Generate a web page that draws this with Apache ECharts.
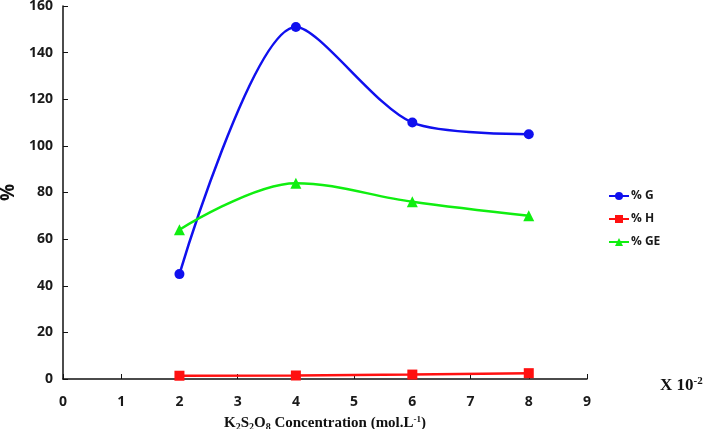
<!DOCTYPE html>
<html><head><meta charset="utf-8">
<script src="https://cdn.jsdelivr.net/npm/echarts@6/dist/echarts.min.js"></script>
<style>html,body{margin:0;padding:0;background:#fff}#c{width:708px;height:429px}</style>
</head><body><div id="c"></div>
<script>
var xValues = [2, 4, 6, 8];
var gValues = [45, 151, 110, 105];
var hValues = [1.4, 1.5, 1.9, 2.5];
var geValues = [64, 84, 76, 70];
var seriesNames = ['% G', '% H', '% GE'];
var yTicks = [0, 20, 40, 60, 80, 100, 120, 140, 160];

function pairs(v){ return xValues.map(function(x,i){ return [x, v[i]]; }); }

var chart = echarts.init(document.getElementById('c'));
var lab = {fontFamily:'Open Sans', fontWeight:'bold', fontSize:14, color:'#1a1a1a'};
chart.setOption({
  animation:false,
  backgroundColor:'#fff',
  grid:{left:63, right:121, top:6, bottom:50, containLabel:false, outerBoundsMode:'none'},
  title:{
    text:'{a|X 10}{s|-2}', left:655, top:371,
    textStyle:{rich:{
      a:{fontFamily:'Liberation Serif', fontWeight:'bold', fontSize:17, color:'#111'},
      s:{fontFamily:'Liberation Serif', fontWeight:'bold', fontSize:11, color:'#111', verticalAlign:'top', padding:[0,0,9,0]}
    }}
  },
  legend:{
    orient:'vertical', left:603, top:185, itemGap:11, itemWidth:20, itemHeight:10,
    data:seriesNames,
    textStyle:{fontFamily:'Open Sans', fontWeight:'bold', fontSize:12, color:'#1a1a1a', padding:[0,0,0,-3]}
  },
  xAxis:{
    type:'value', min:0, max:9, interval:1,
    axisLine:{lineStyle:{color:'#111', width:1.5}},
    axisTick:{inside:true, length:5, lineStyle:{color:'#111'}},
    axisLabel:Object.assign({margin:16}, lab),
    splitLine:{show:false},
    name:'{a|K}{s|2}{a|S}{s|2}{a|O}{s|8}{a| Concentration (mol.L}{p|-1}{a|)}',
    nameLocation:'middle', nameGap:36,
    nameTextStyle:{rich:{
      a:{fontFamily:'Liberation Serif', fontWeight:'bold', fontSize:15, color:'#111'},
      s:{fontFamily:'Liberation Serif', fontWeight:'bold', fontSize:10, color:'#111', verticalAlign:'bottom', padding:[7,0,0,0]},
      p:{fontFamily:'Liberation Serif', fontWeight:'bold', fontSize:9, color:'#111', verticalAlign:'top', padding:[0,0,7,0]}
    }}
  },
  yAxis:{
    type:'value', min:0, max:160, interval:20,
    axisLine:{show:true, lineStyle:{color:'#111', width:1.5}},
    axisTick:{show:true, inside:true, length:5, lineStyle:{color:'#111'}},
    axisLabel:Object.assign({margin:10, formatter:function(v){return yTicks.indexOf(v)>=0?String(v):'';}}, lab),
    splitLine:{show:false},
    name:'%', nameLocation:'middle', nameGap:40, nameRotate:90,
    nameTextStyle:{fontFamily:'Open Sans', fontWeight:'bold', fontSize:19, color:'#111'}
  },
  series:[
    {name:seriesNames[0], type:'line', data:pairs(gValues), smooth:0.28, symbol:'circle', symbolSize:10,
     itemStyle:{color:'#1010ee'}, lineStyle:{color:'#1010ee', width:2.5}},
    {name:seriesNames[1], type:'line', data:pairs(hValues), smooth:false, symbol:'rect', symbolSize:10,
     itemStyle:{color:'#ff1010'}, lineStyle:{color:'#ff1010', width:2.5}},
    {name:seriesNames[2], type:'line', data:pairs(geValues), smooth:0.35, symbol:'triangle', symbolSize:11,
     itemStyle:{color:'#10ee10'}, lineStyle:{color:'#10ee10', width:2.5}}
  ]
});
</script></body></html>
